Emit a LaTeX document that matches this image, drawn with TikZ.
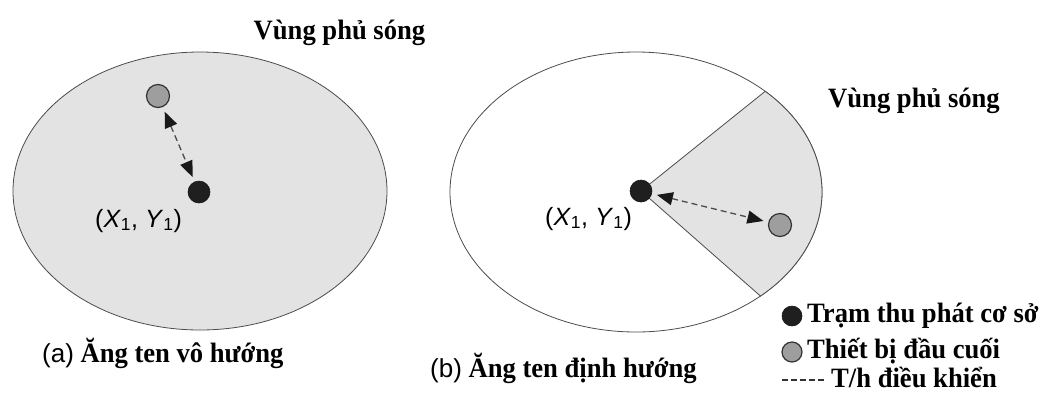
\documentclass[tikz,border=0pt]{standalone}
\usepackage{fontspec}
\setmainfont{Liberation Serif}
\setsansfont{Liberation Sans}
\newfontfamily\vnserif{Liberation Serif}[FakeStretch=0.95]
\usetikzlibrary{arrows.meta}
\begin{document}
\begin{tikzpicture}[x=1pt,y=-1pt,
  zone/.style={draw=black!70, line width=0.8pt},
  zonefill/.style={fill=black!11},
  bts/.style={circle, fill=black!88, draw=black!90, line width=0.6pt, minimum size=22pt, inner sep=0pt},
  term/.style={circle, fill=black!38, draw=black!80, line width=1.2pt, minimum size=23pt, inner sep=0pt},
  link/.style={draw=black!70, line width=1.3pt, dash pattern=on 6pt off 4pt,
     {Triangle[length=16pt,width=13pt,color=black!90]}-{Triangle[length=16pt,width=13pt,color=black!90]},
     shorten <=5pt, shorten >=5pt},
  lbl/.style={font=\vnserif\bfseries\fontsize{28}{32}\selectfont, inner sep=0pt},
  coord/.style={font=\sffamily\fontsize{25}{28}\selectfont, inner sep=0pt},
  capt/.style={font=\vnserif\bfseries\fontsize{28}{32}\selectfont, inner sep=0pt}
]
\useasboundingbox (0,0) rectangle (1050,392);

% ---------- (a) omnidirectional ----------
\draw[zone, zonefill] (200,191) ellipse [x radius=187, y radius=139];
\node[lbl, anchor=base] (cova) at (339.5,39) {Vùng phủ sóng};
\node[term] (ta) at (158,96) {};
\node[bts] (ba) at (199,192) {};
\draw[link] (ta) -- (ba);
\node[coord, anchor=base west] (xya) at (95,227) {(\textit{X}\textsubscript{1}, \textit{Y}\textsubscript{1})};
\node[capt, anchor=base west] (capa) at (42,362) {{\mdseries\sffamily\fontsize{26}{30}\selectfont (a)} Ăng ten vô hướng};

% ---------- (b) directional ----------
\draw[zone] (636,192) ellipse [x radius=186, y radius=140];
\draw[zone, zonefill] (641,191) -- (765.2,91.3) arc[start angle=-46, end angle=48, x radius=186, y radius=140] -- cycle;
\node[lbl, anchor=base] (covb) at (914,107) {Vùng phủ sóng};
\node[bts] (bb) at (641,191) {};
\node[term] (tb) at (780,225) {};
\draw[link] (bb) -- (tb);
\node[coord, anchor=base west] (xyb) at (545,225) {(\textit{X}\textsubscript{1}, \textit{Y}\textsubscript{1})};
\node[capt, anchor=base west] (capb) at (430,377) {{\mdseries\sffamily\fontsize{26}{30}\selectfont (b)} Ăng ten định hướng};

% ---------- legend ----------
\node[bts, minimum size=20pt] (lb) at (792,316) {};
\node[lbl, anchor=base west] (lbt) at (807,322) {Trạm thu phát cơ sở};
\node[term, minimum size=20pt] (lt) at (792,352) {};
\node[lbl, anchor=base west] (ltt) at (807,358) {Thiết bị đầu cuối};
\coordinate (ld1) at (782,380);
\coordinate (ld2) at (825,380);
\draw[draw=black!80, line width=1.2pt, dash pattern=on 6pt off 3pt] (ld1) -- (ld2);
\node[lbl, anchor=base west] (ldt) at (831,387) {T/h điều khiển};
\end{tikzpicture}
\end{document}
